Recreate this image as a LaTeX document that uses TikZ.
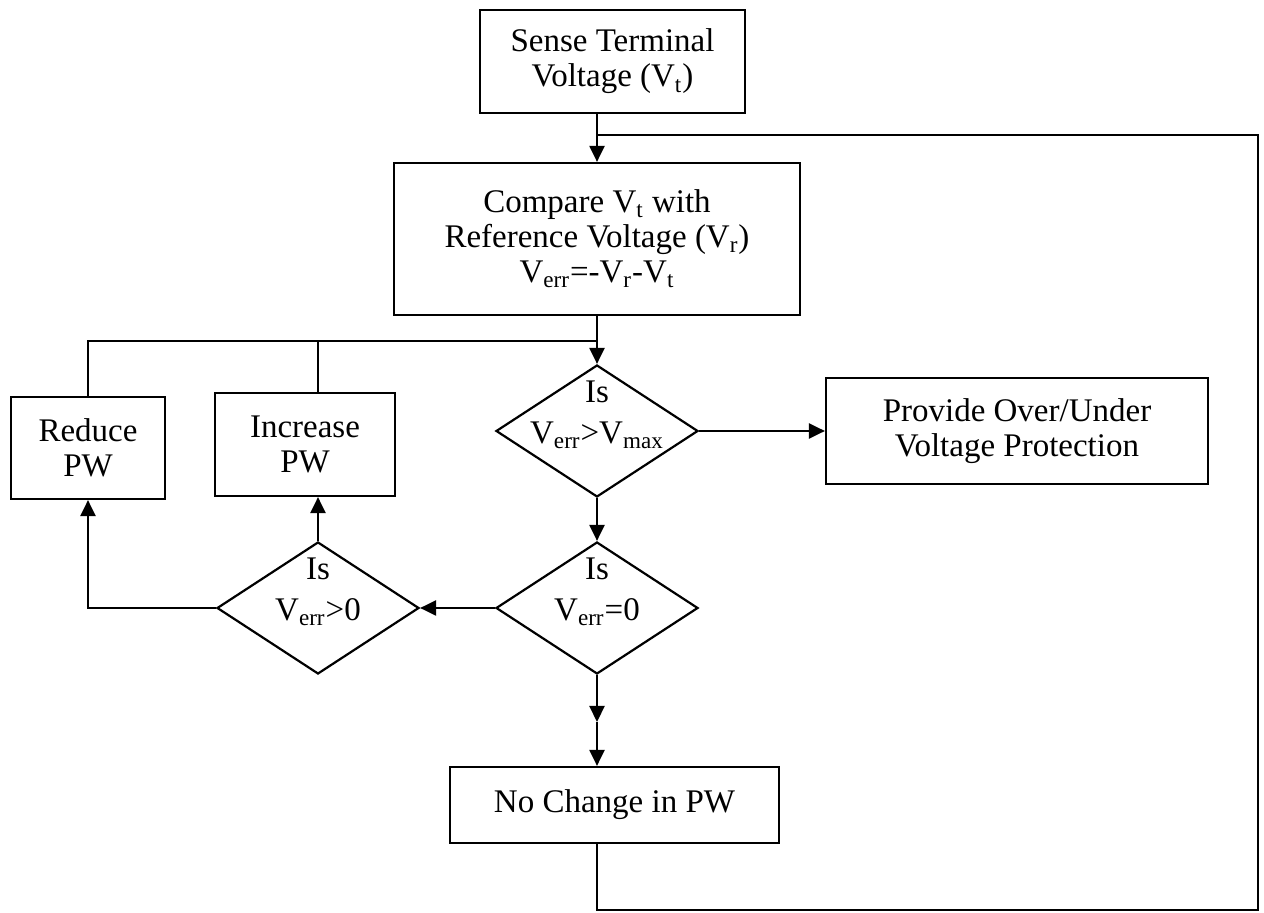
\documentclass[tikz,border=0pt]{standalone}
\usepackage{fontspec}
\setmainfont{Liberation Serif}
\usetikzlibrary{shapes.geometric,arrows.meta}

\begin{document}
\begin{tikzpicture}[x=0.5pt,y=-0.5pt,line width=1.1pt,
		every node/.style={font=\fontsize{16.5}{17.5}\selectfont},
		box/.style={draw,rectangle,align=center,inner sep=0pt},
		test/.style={draw,diamond,inner sep=0pt,minimum width=101pt,minimum height=66pt},
		arr/.style={-{Triangle[length=8pt,width=7.5pt]}}]
		\useasboundingbox (0,0) rectangle (1264,913);
		% boxes and tests
		\node[box,minimum width=132.5pt,minimum height=51.5pt] (sense) at (612.5,61.5) {Sense Terminal\\Voltage (V\textsubscript{t})};
		\node[box,minimum width=203pt,minimum height=76pt] (compare) at (597,239) {Compare V\textsubscript{t} with\\Reference Voltage (V\textsubscript{r})\\V\textsubscript{err}=-V\textsubscript{r}-V\textsubscript{t}};
		\node[test,label={[align=center,yshift=8pt]center:{Is\\[3pt]V\textsubscript{err}>V\textsubscript{max}}}] (chkmax) at (597,431) {};
		\node[box,minimum width=191pt,minimum height=53pt] (protect) at (1017,431) {Provide Over/Under\\Voltage Protection};
		\node[test,label={[align=center,yshift=8pt]center:{Is\\[3pt]V\textsubscript{err}=0}}] (chkzero) at (597,608) {};
		\node[test,label={[align=center,yshift=8pt]center:{Is\\[3pt]V\textsubscript{err}>0}}] (chkpos) at (318,608) {};
		\node[box,minimum width=77pt,minimum height=51pt] (reduce) at (88,448) {Reduce\\PW};
		\node[box,minimum width=90pt,minimum height=51.5pt] (increase) at (305,444.5) {Increase\\PW};
		\node[box,minimum width=164.5pt,minimum height=38pt] (nochange) at (614.5,805) {No Change in PW};
		\coordinate (join) at (597,135);
		\coordinate (split) at (597,341);
		\coordinate (mid) at (597,722);
		% connectors
		\draw[arr] (sense.south -| compare.north) -- (compare.north);
		\draw[arr] (compare.south) -- (chkmax.north);
		\draw (reduce.north) |- (split);
		\draw (chkpos.north |- increase.north) -- (chkpos.north |- split);
		\draw[arr] (chkmax.east) -- (protect.west);
		\draw[arr] (chkmax.south) -- (chkzero.north);
		\draw[arr] (chkzero.west) -- (chkpos.east);
		\draw[arr] (chkpos.north) -- (chkpos.north |- increase.south);
		\draw[arr] (chkpos.west) -| (reduce.south);
		\draw[arr] (chkzero.south) -- (mid);
		\draw[arr] (mid) -- (mid |- nochange.north);
		\draw (nochange.south -| mid) |- (1258,910) -- (1258,135) -- (join);
	\end{tikzpicture}
\end{document}
